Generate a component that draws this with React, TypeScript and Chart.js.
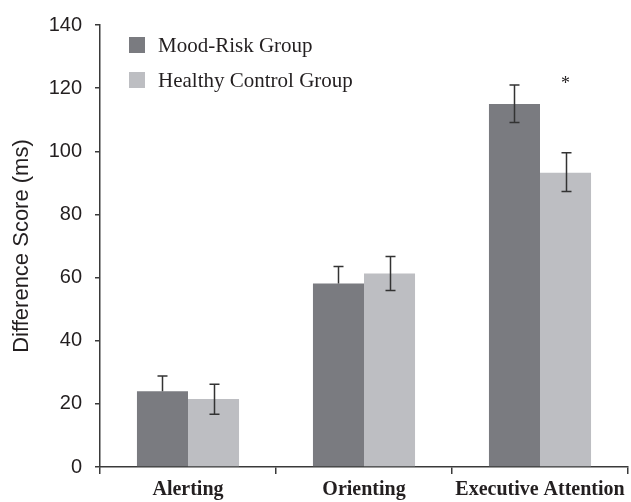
import React, { useEffect, useRef } from "react";
import { Chart, registerables } from "chart.js";

Chart.register(...registerables);

const categories = ["Alerting", "Orienting", "Executive Attention"];
const seriesNames = ["Mood-Risk Group", "Healthy Control Group"];
const moodRisk = [24.0, 58.1, 115.0];
const healthy = [21.5, 61.3, 93.2];
const moodRiskErrUp = [4.8, 5.4, 6.0];
const moodRiskErrDown = [0, 0, 5.9];
const healthyErrUp = [4.7, 5.4, 6.3];
const healthyErrDown = [4.8, 5.4, 5.9];
const significance = ["", "", "*"];
const significanceLevel = 122.5;
const yTicks = [0, 20, 40, 60, 80, 100, 120, 140];

const TEXT = "#231f20";
const AXIS = "#3a3a3a";

const errorBarPlugin = {
  id: "errorBars",
  afterDatasetsDraw(chart: any) {
    const ctx = chart.ctx;
    const y = chart.scales.y;
    const ups = [moodRiskErrUp, healthyErrUp];
    const downs = [moodRiskErrDown, healthyErrDown];
    ctx.save();
    ctx.strokeStyle = "#333333";
    ctx.lineWidth = 1.5;
    chart.data.datasets.forEach((ds: any, di: number) => {
      const meta = chart.getDatasetMeta(di);
      meta.data.forEach((bar: any, i: number) => {
        const v = ds.data[i];
        const top = y.getPixelForValue(v + ups[di][i]);
        const bottom = y.getPixelForValue(v - downs[di][i]);
        const x = Math.round(bar.x) + 0.5;
        ctx.beginPath();
        ctx.moveTo(x, top);
        ctx.lineTo(x, bottom);
        ctx.moveTo(x - 5, top);
        ctx.lineTo(x + 5, top);
        if (downs[di][i] > 0) {
          ctx.moveTo(x - 5, bottom);
          ctx.lineTo(x + 5, bottom);
        }
        ctx.stroke();
      });
    });
    // significance markers above second series
    const meta2 = chart.getDatasetMeta(1);
    ctx.fillStyle = TEXT;
    ctx.font = "18px 'Liberation Serif'";
    ctx.textAlign = "center";
    ctx.textBaseline = "middle";
    significance.forEach((s, i) => {
      if (!s) return;
      const bar: any = meta2.data[i];
      ctx.fillText(s, bar.x, y.getPixelForValue(significanceLevel) + 4);
    });
    ctx.restore();
  },
};

const legendPlugin = {
  id: "customLegend",
  afterDraw(chart: any) {
    const ctx = chart.ctx;
    ctx.save();
    ctx.font = "21px 'Liberation Serif'";
    ctx.textAlign = "left";
    ctx.textBaseline = "alphabetic";
    chart.data.datasets.forEach((ds: any, i: number) => {
      const top = 37 + i * 35;
      ctx.fillStyle = ds.backgroundColor;
      ctx.fillRect(129, top, 16, 16);
      ctx.fillStyle = TEXT;
      ctx.fillText(ds.label, 158, top + 15);
    });
    ctx.restore();
  },
};

export default function App() {
  const ref = useRef<HTMLCanvasElement>(null);
  useEffect(() => {
    if (!ref.current) return;
    const chart = new Chart(ref.current, {
      type: "bar",
      data: {
        labels: categories,
        datasets: [
          {
            label: seriesNames[0],
            data: moodRisk,
            backgroundColor: "#7a7b80",
            categoryPercentage: 0.58,
            barPercentage: 1,
          },
          {
            label: seriesNames[1],
            data: healthy,
            backgroundColor: "#bdbec2",
            categoryPercentage: 0.58,
            barPercentage: 1,
          },
        ],
      },
      options: {
        responsive: false,
        animation: false,
        layout: { padding: { top: 24, right: 3, left: 0, bottom: 0 } },
        plugins: {
          legend: { display: false },
          tooltip: { enabled: false },
        },
        scales: {
          x: {
            offset: true,
            grid: {
              offset: true,
              drawOnChartArea: false,
              drawTicks: true,
              tickLength: 7,
              color: AXIS,
              lineWidth: 1.5,
            },
            border: { color: AXIS, width: 1.5 },
            ticks: {
              color: TEXT,
              font: { family: "'Liberation Serif'", size: 20, weight: "bold" },
              padding: 4,
              autoSkip: false,
              maxRotation: 0,
            },
            afterFit: (s: any) => {
              s.height = 35;
            },
          },
          y: {
            min: 0,
            max: 140,
            afterBuildTicks: (s: any) => {
              s.ticks = yTicks.map((v) => ({ value: v }));
            },
            grid: {
              drawOnChartArea: false,
              drawTicks: true,
              tickLength: 5,
              color: AXIS,
              lineWidth: 1.5,
            },
            border: { color: AXIS, width: 1.5 },
            ticks: {
              color: TEXT,
              font: { family: "'Liberation Sans'", size: 20 },
              padding: 13,
            },
            title: {
              display: true,
              text: "Difference Score (ms)",
              color: TEXT,
              font: { family: "'Liberation Sans'", size: 22 },
              padding: { top: 9, bottom: 0 },
            },
            afterFit: (s: any) => {
              s.width = 100;
            },
          },
        },
      },
      plugins: [errorBarPlugin, legendPlugin],
    });
    return () => chart.destroy();
  }, []);
  return (
    <div style={{ position: "absolute", left: 0, top: 0, width: 631, height: 502, background: "#fff" }}>
      <canvas ref={ref} width={631} height={502} />
    </div>
  );
}
